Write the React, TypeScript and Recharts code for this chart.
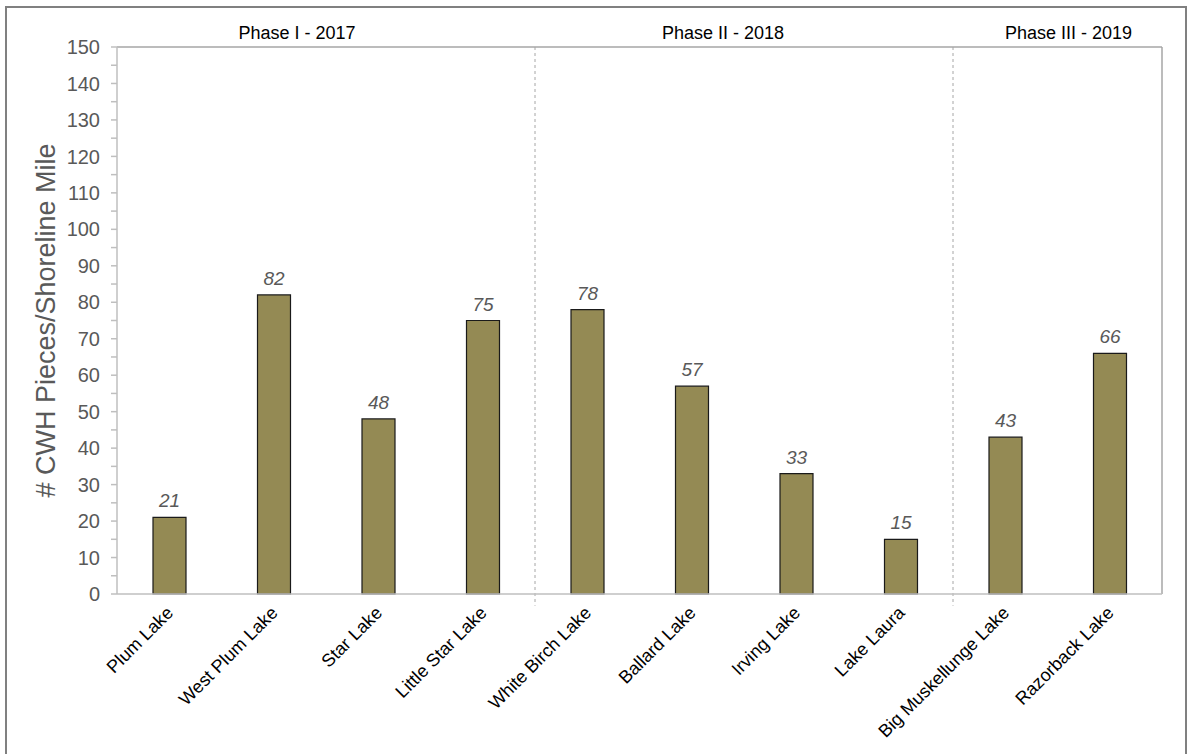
import { BarChart, Bar, XAxis, YAxis, ReferenceLine, ReferenceArea, LabelList } from 'recharts';

const lakes = [
  'Plum Lake',
  'West Plum Lake',
  'Star Lake',
  'Little Star Lake',
  'White Birch Lake',
  'Ballard Lake',
  'Irving Lake',
  'Lake Laura',
  'Big Muskellunge Lake',
  'Razorback Lake',
];

const cwhPerMile = [21, 82, 48, 75, 78, 57, 33, 15, 43, 66];

const phases = [
  { label: 'Phase I - 2017', from: 0, to: 3 },
  { label: 'Phase II - 2018', from: 4, to: 7 },
  { label: 'Phase III - 2019', from: 8, to: 9 },
];

const yTicks = [0, 5, 10, 15, 20, 25, 30, 35, 40, 45, 50, 55, 60, 65, 70, 75, 80, 85, 90, 95, 100, 105, 110, 115, 120, 125, 130, 135, 140, 145, 150];

// the phase titles sit a little off the middle of their groups
const phaseLabelDx = [-29, -21, 11];

const data = lakes.map((name, i) => ({ idx: i, name, value: cwhPerMile[i] }));
const centerTicks = lakes.map((_, i) => i);
const boundaryTicks = [...lakes.map((_, i) => i - 0.5), lakes.length - 0.5];

const FONT = 'Arial, "Liberation Sans", sans-serif';
const GRID = '#bfbfbf';

const LakeTick = (props: any) => {
  const { x, y, payload } = props;
  const name = lakes[payload.value];
  return (
    <text
      x={x + 5}
      y={y + 6}
      transform={`rotate(-45, ${x + 5}, ${y + 6})`}
      textAnchor="end"
      style={{ fontSize: 18, fontFamily: FONT }}
      fill="#000"
    >
      {name}
    </text>
  );
};

export default function App() {
  return (
    <div style={{ position: 'absolute', left: 0, top: 0, width: 1188, height: 754, overflow: 'hidden', background: '#fff' }}>
      <div
        style={{
          position: 'absolute',
          left: 5,
          top: 6,
          width: 1182,
          height: 800,
          border: '2px solid #808080',
          boxSizing: 'border-box',
        }}
      />
      <div style={{ position: 'absolute', left: 0, top: 0 }}>
        <BarChart
          width={1188}
          height={754}
          data={data}
          margin={{ top: 47, right: 26, bottom: 10, left: 57 }}
        >
          <XAxis
            xAxisId="a"
            type="number"
            dataKey="idx"
            domain={[-0.5, lakes.length - 0.5]}
            ticks={boundaryTicks}
            interval={0}
            tick={false}
            tickSize={6}
            stroke={GRID}
            strokeWidth={1.5}
            height={6}
          />
          <XAxis
            xAxisId="z"
            type="number"
            dataKey="idx"
            domain={[-0.5, lakes.length - 0.5]}
            ticks={centerTicks}
            interval={0}
            axisLine={false}
            tickLine={false}
            tick={<LakeTick />}
            height={144}
          />
          <YAxis
            domain={[0, 150]}
            ticks={yTicks}
            interval={0}
            width={60}
            tickSize={6}
            tickMargin={11}
            stroke={GRID}
            strokeWidth={1.5}
            tickFormatter={(v: number) => (v % 10 === 0 ? String(v) : '')}
            tick={{ fill: '#595959', fontSize: 20, fontFamily: FONT }}
            label={{
              value: '# CWH Pieces/Shoreline Mile',
              angle: -90,
              position: 'left',
              offset: 12,
              style: { textAnchor: 'middle', fill: '#595959', fontSize: 27, fontFamily: FONT },
            }}
          />
          {phases.map((p, i) => (
            <ReferenceArea
              key={p.label}
              xAxisId="a"
              x1={p.from - 0.5}
              x2={p.to + 0.5}
              y1={0}
              y2={150}
              fillOpacity={0}
              strokeOpacity={0}
              ifOverflow="visible"
              label={{ value: p.label, position: 'top', offset: 8, dx: phaseLabelDx[i], fill: '#000', fontSize: 18, fontFamily: FONT }}
            />
          ))}
          <ReferenceLine xAxisId="a" y={150} stroke="#a6a6a6" strokeWidth={1.5} />
          <ReferenceLine xAxisId="a" x={lakes.length - 0.5} stroke="#a6a6a6" strokeWidth={1.5} />
          {phases.slice(1).map((p) => (
            <ReferenceLine
              key={'sep' + p.label}
              xAxisId="a"
              ifOverflow="visible"
              segment={[
                { x: p.from - 0.5, y: 150 },
                { x: p.from - 0.5, y: -3.2 },
              ]}
              stroke="#a6a6a6"
              strokeDasharray="3 3"
            />
          ))}
          <Bar xAxisId="a" dataKey="value" barSize={33} fill="#948a54" stroke="#1a1a1a" strokeWidth={1.2} isAnimationActive={false}>
            <LabelList
              dataKey="value"
              position="top"
              offset={10}
              fill="#595959"
              fontSize={19}
              fontStyle="italic"
              fontFamily={FONT}
            />
          </Bar>
        </BarChart>
      </div>
    </div>
  );
}
